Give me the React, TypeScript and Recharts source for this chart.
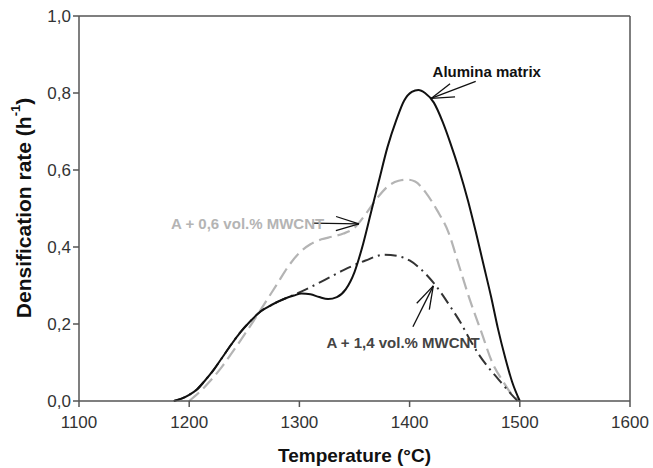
import { LineChart, Line, XAxis, YAxis, ReferenceLine, ReferenceDot, Label } from 'recharts'

const xTicks = [1100, 1200, 1300, 1400, 1500, 1600]
const yTicks = [0, 0.2, 0.4, 0.6, 0.8, 1.0]

// Alumina matrix (solid black)
const aluminaT = [1186, 1193, 1200, 1207, 1214, 1222, 1230, 1238, 1246, 1255, 1265, 1275, 1286, 1295, 1302, 1310, 1318, 1326, 1334, 1342, 1350, 1358, 1365, 1372, 1380, 1388, 1395, 1402, 1408, 1414, 1422, 1430, 1437, 1445, 1453, 1460, 1467, 1474, 1480, 1487, 1493, 1500]
const aluminaRate = [0, 0.006, 0.016, 0.03, 0.052, 0.08, 0.113, 0.146, 0.177, 0.206, 0.233, 0.25, 0.265, 0.274, 0.279, 0.277, 0.27, 0.265, 0.27, 0.29, 0.335, 0.41, 0.49, 0.57, 0.66, 0.73, 0.78, 0.803, 0.808, 0.8, 0.775, 0.725, 0.67, 0.6, 0.52, 0.44, 0.355, 0.27, 0.19, 0.11, 0.05, 0]

// A + 0,6 vol.% MWCNT (light grey dashed)
const cnt06T = [1200, 1210, 1220, 1230, 1240, 1250, 1260, 1270, 1280, 1290, 1300, 1310, 1320, 1330, 1340, 1350, 1360, 1370, 1380, 1390, 1398, 1405, 1415, 1425, 1435, 1445, 1455, 1465, 1475, 1485, 1492, 1500]
const cnt06Rate = [0, 0.025, 0.055, 0.09, 0.13, 0.172, 0.215, 0.26, 0.305, 0.35, 0.385, 0.407, 0.42, 0.427, 0.435, 0.45, 0.485, 0.525, 0.557, 0.572, 0.575, 0.57, 0.54, 0.495, 0.44, 0.35, 0.26, 0.18, 0.1, 0.05, 0.02, 0]

// A + 1,4 vol.% MWCNT (dark dash-dot)
const cnt14T = [1186, 1193, 1200, 1207, 1214, 1222, 1230, 1238, 1246, 1255, 1265, 1275, 1286, 1300, 1320, 1340, 1360, 1377, 1390, 1400, 1410, 1422, 1437, 1447, 1455, 1463, 1471, 1481, 1490, 1498]
const cnt14Rate = [0, 0.006, 0.016, 0.03, 0.052, 0.08, 0.113, 0.146, 0.177, 0.206, 0.233, 0.25, 0.265, 0.282, 0.31, 0.34, 0.365, 0.38, 0.376, 0.365, 0.343, 0.306, 0.245, 0.2, 0.158, 0.12, 0.089, 0.055, 0.025, 0]

// annotations: label text, label position, arrow tail -> arrow tip
const noteText = ['Alumina matrix', 'A + 0,6 vol.% MWCNT', 'A + 1,4 vol.% MWCNT']
const noteColor = ['#111111', '#b4b4b4', '#444444']
const noteAt = [[1470, 0.855], [1253, 0.46], [1394, 0.151]]
const arrowFrom = [[1460, 0.83], [1312, 0.462], [1403, 0.193]]
const arrowTo = [[1419.5, 0.786], [1354, 0.46], [1421.5, 0.299]]

const zip = (t: number[], r: number[]) => t.map((x, i) => ({ x, y: r[i] }))
const alumina = zip(aluminaT, aluminaRate)
const cnt06 = zip(cnt06T, cnt06Rate)
const cnt14 = zip(cnt14T, cnt14Rate)

const AXIS = '#555555'
const FONT = '"Liberation Sans", Arial, sans-serif'

function Arrow(p: any) {
  const { x1, y1, x2, y2 } = p
  const a = Math.atan2(y1 - y2, x1 - x2)
  const len = 24, sp = (17 * Math.PI) / 180
  const b1 = [x2 + len * Math.cos(a + sp), y2 + len * Math.sin(a + sp)]
  const b2 = [x2 + len * Math.cos(a - sp), y2 + len * Math.sin(a - sp)]
  return (
    <g stroke="#111" strokeWidth={1.3} fill="none">
      <line x1={x1} y1={y1} x2={x2} y2={y2} />
      <line x1={x2} y1={y2} x2={b1[0]} y2={b1[1]} />
      <line x1={x2} y1={y2} x2={b2[0]} y2={b2[1]} />
    </g>
  )
}

const yLabel = () => (
  <text x={23} y={208} transform="rotate(-90 23 208)" textAnchor="middle" dominantBaseline="central"
    fontFamily={FONT} fontWeight="bold" fontSize={21} fill="#111">
    Densification rate (h<tspan fontSize={13} dy={-8}>-1</tspan><tspan dy={8}>)</tspan>
  </text>
)

export default function App() {
  return (
    <div style={{ position: 'absolute', left: 0, top: 0, width: 653, height: 468, background: '#fff' }}>
      <LineChart width={653} height={468} margin={{ top: 16, right: 23, bottom: 0, left: 0 }}>
        <XAxis type="number" dataKey="x" domain={[1100, 1600]} ticks={xTicks} allowDataOverflow
          stroke={AXIS} strokeWidth={1.5} tickSize={6} tickMargin={9} height={67}
          tick={{ fill: '#333', fontSize: 17, fontFamily: FONT }}>
          <Label value="Temperature (°C)" position="insideBottom" offset={6}
            style={{ fontFamily: FONT, fontWeight: 'bold', fontSize: 19, fill: '#111' }} />
        </XAxis>
        <YAxis type="number" domain={[0, 1]} ticks={yTicks} width={79}
          stroke={AXIS} strokeWidth={1.5} tickSize={6}
          tickFormatter={(v: number) => v.toFixed(1).replace('.', ',')}
          tick={{ fill: '#333', fontSize: 17, fontFamily: FONT }}
          label={yLabel} />
        <ReferenceLine y={1} stroke={AXIS} strokeWidth={1.5} />
        <ReferenceLine x={1600} stroke={AXIS} strokeWidth={1.5} />
        <Line data={cnt06} dataKey="y" type="monotone" stroke="#b4b4b4" strokeWidth={2.2}
          strokeDasharray="13 6" dot={false} isAnimationActive={false} />
        <Line data={cnt14} dataKey="y" type="monotone" stroke="#333" strokeWidth={2}
          strokeDasharray="12 5 2 5" dot={false} isAnimationActive={false} />
        <Line data={alumina} dataKey="y" type="monotone" stroke="#111" strokeWidth={2}
          dot={false} isAnimationActive={false} />
        {noteText.map((t, i) => (
          <ReferenceLine key={'a' + i} segment={[{ x: arrowFrom[i][0], y: arrowFrom[i][1] }, { x: arrowTo[i][0], y: arrowTo[i][1] }]}
            shape={Arrow} />
        ))}
        {noteText.map((t, i) => (
          <ReferenceDot key={'t' + i} x={noteAt[i][0]} y={noteAt[i][1]} r={0}
            shape={(p: any) => (
              <text x={p.cx} y={p.cy} textAnchor="middle" dominantBaseline="central"
                fontFamily={FONT} fontWeight="bold" fontSize={15} fill={noteColor[i]}>{t}</text>
            )} />
        ))}
      </LineChart>
    </div>
  )
}
